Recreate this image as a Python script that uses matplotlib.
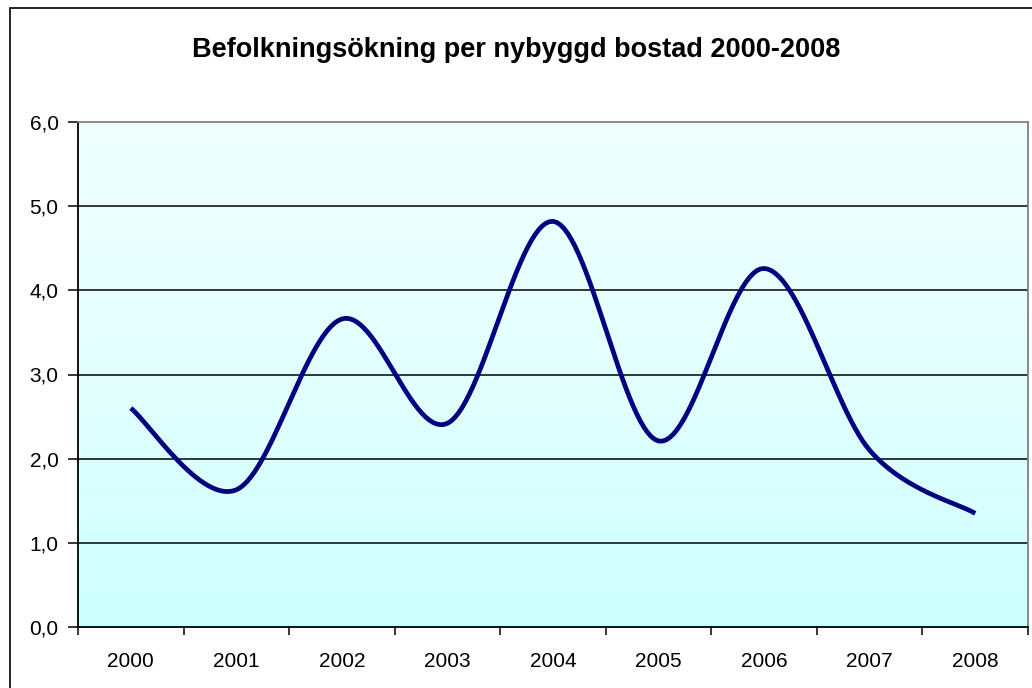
import numpy as np
import matplotlib
matplotlib.use("Agg")
import matplotlib.pyplot as plt
from matplotlib.patches import Rectangle

plt.rcParams['font.family'] = ['Liberation Sans', 'DejaVu Sans']

# data
years = ['2000', '2001', '2002', '2003', '2004', '2005', '2006', '2007', '2008']
values = [2.60, 1.63, 3.66, 2.42, 4.82, 2.21, 4.26, 2.10, 1.35]
yticks = [0, 1, 2, 3, 4, 5, 6]
ytick_labels = ['0,0', '1,0', '2,0', '3,0', '4,0', '5,0', '6,0']
title = 'Befolkningsökning per nybyggd bostad 2000-2008'


def smooth(xs, ys, steps=30):
    # Excel-style smoothed line: cubic bezier through every point
    p = np.column_stack([xs, ys]).astype(float)
    pts = np.vstack([p[0], p, p[-1]])
    out = []
    for i in range(len(p) - 1):
        p0, p1, p2, p3 = pts[i], pts[i + 1], pts[i + 2], pts[i + 3]
        c1 = p1 + (p2 - p0) / 6
        c2 = p2 - (p3 - p1) / 6
        t = np.linspace(0, 1, steps)[:, None]
        seg = ((1 - t) ** 3) * p1 + 3 * ((1 - t) ** 2) * t * c1 + 3 * (1 - t) * t ** 2 * c2 + t ** 3 * p2
        out.append(seg if i == 0 else seg[1:])
    out = np.vstack(out)
    return out[:, 0], out[:, 1]


fig = plt.figure(figsize=(10.32, 6.88), dpi=100)
fig.patch.set_facecolor('white')

# outer chart border
fig.add_artist(Rectangle((10 / 1032, -0.05), 1.2, 1 - 8 / 688 + 0.05,
                         transform=fig.transFigure, fill=False,
                         edgecolor='black', linewidth=1.2))

ax = fig.add_axes([78 / 1032, 1 - 627 / 688, 950 / 1032, 505 / 688])

# background gradient (pale at top, cyan at bottom)
grad = np.linspace(0, 1, 256)[:, None]
top = np.array([0.93, 1.0, 1.0])
bottom = np.array([0.80, 1.0, 1.0])
img = top + (bottom - top) * grad[..., None] ** 1.6
ax.imshow(img, extent=[-0.5, 8.5, 0, 6], aspect='auto', zorder=0, origin='upper')
ax.set_xlim(-0.5, 8.5)
ax.set_ylim(0, 6)

for y in yticks[1:6]:
    ax.axhline(y, color='black', linewidth=1.1, zorder=1)

x = np.arange(len(years))
sx, sy = smooth(x, values)
ax.plot(sx, sy, color='#000080', linewidth=3.4, solid_capstyle='butt', zorder=3)

ax.set_yticks(yticks)
ax.set_yticklabels(ytick_labels, fontsize=15)
ax.set_xticks(x)
ax.set_xticklabels(years, fontsize=15)
ax.set_xticks(np.arange(-0.5, 9.0, 1.0), minor=True)
ax.tick_params(axis='x', which='major', length=0, pad=18)
ax.tick_params(axis='x', which='minor', length=6, width=1.1, color='black')
ax.tick_params(axis='y', length=7, width=1.1, pad=7)

for s in ['left', 'bottom']:
    ax.spines[s].set_color('black')
    ax.spines[s].set_linewidth(1.3)
for s in ['top', 'right']:
    ax.spines[s].set_color('#808080')
    ax.spines[s].set_linewidth(1.3)

fig.text(0.5, 1 - 50 / 688, title, ha='center', va='center',
         fontsize=19.5, fontweight='bold')

fig.savefig('out.png', dpi=100)
